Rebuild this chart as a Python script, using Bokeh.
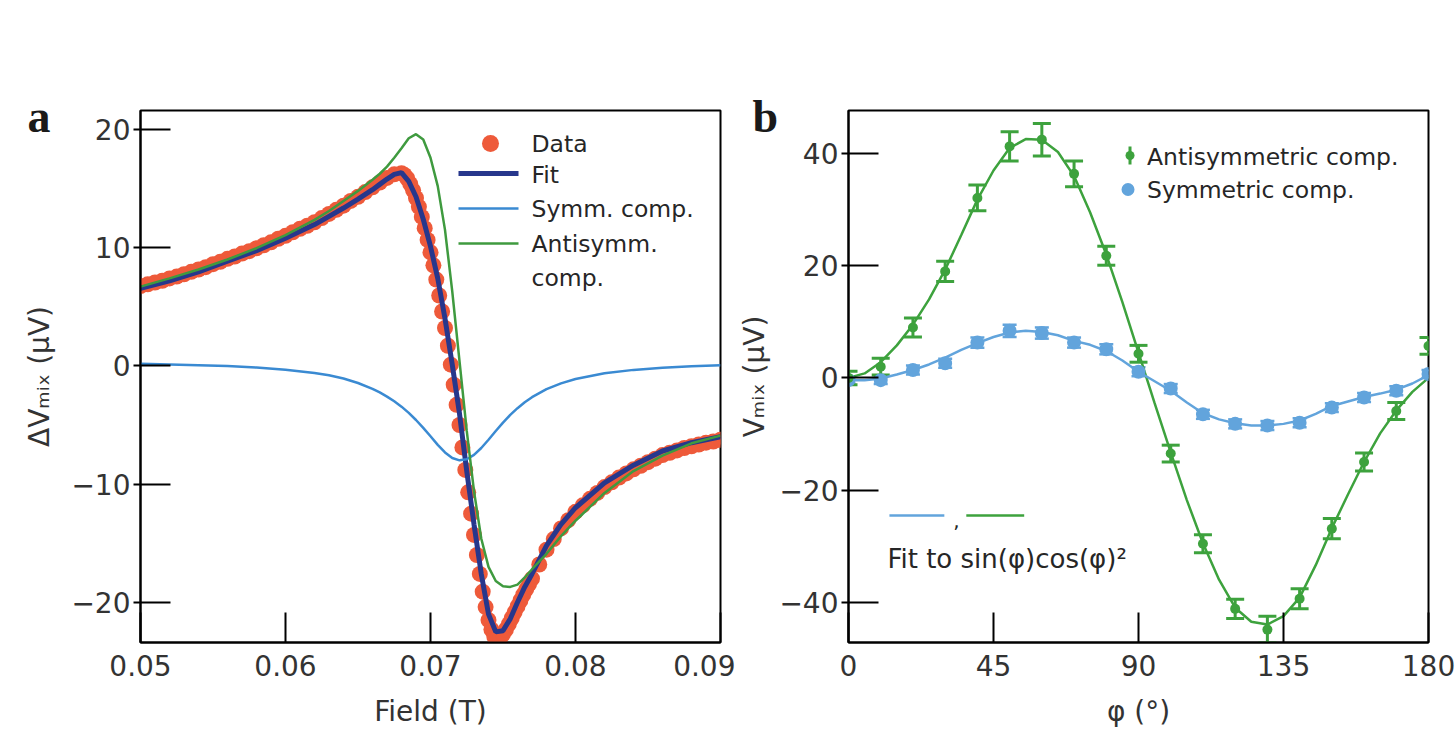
from bokeh.plotting import figure
from bokeh.layouts import row
from bokeh.models import FixedTicker, Whisker, TeeHead, ColumnDataSource
from bokeh.core.properties import value
from bokeh.embed import file_html
from bokeh.resources import INLINE

# ---------------- panel a: mixing voltage versus field ----------------
field_data = [
    0.0500, 0.0505, 0.0510, 0.0515, 0.0520, 0.0525, 0.0530, 0.0535, 0.0540, 0.0545,
    0.0550, 0.0555, 0.0560, 0.0565, 0.0570, 0.0575, 0.0580, 0.0585, 0.0590, 0.0595,
    0.0600, 0.0605, 0.0610, 0.0615, 0.0620, 0.0625, 0.0630, 0.0635, 0.0640, 0.0645,
    0.0650, 0.0655, 0.0660, 0.0665, 0.0670, 0.0675, 0.0680,
    0.0682, 0.0684, 0.0686, 0.0688, 0.0690, 0.0692, 0.0694, 0.0696, 0.0698, 0.0700,
    0.0702, 0.0704, 0.0706, 0.0708, 0.0710, 0.0712, 0.0714, 0.0716, 0.0718, 0.0720,
    0.0722, 0.0724, 0.0726, 0.0728, 0.0730, 0.0732, 0.0734, 0.0736, 0.0738, 0.0740,
    0.0742, 0.0744, 0.0746, 0.0748, 0.0750, 0.0752, 0.0754, 0.0756, 0.0758, 0.0760,
    0.0762, 0.0764, 0.0766, 0.0768, 0.0770,
    0.0775, 0.0780, 0.0785, 0.0790, 0.0795, 0.0800, 0.0805, 0.0810, 0.0815, 0.0820,
    0.0825, 0.0830, 0.0835, 0.0840, 0.0845, 0.0850, 0.0855, 0.0860, 0.0865, 0.0870,
    0.0875, 0.0880, 0.0885, 0.0890, 0.0895, 0.0900,
]
dv_data = [
    6.75, 6.9, 7.05, 7.2, 7.4, 7.55, 7.75, 7.95, 8.15, 8.35,
    8.6, 8.8, 9.05, 9.25, 9.5, 9.7, 9.95, 10.2, 10.45, 10.75,
    11.0, 11.3, 11.6, 11.85, 12.15, 12.5, 12.85, 13.2, 13.55, 13.95,
    14.3, 14.7, 15.1, 15.5, 15.9, 16.2, 16.3,
    16.15, 15.85, 15.4, 14.85, 14.2, 13.45, 12.6, 11.65, 10.65, 9.6,
    8.5, 7.3, 5.95, 4.6, 3.2, 1.7, 0.1, -1.6, -3.3, -5.0,
    -6.9, -8.8, -10.7, -12.5, -14.3, -16.0, -17.6, -19.1, -20.4, -21.5,
    -22.3, -22.9, -23.1, -23.0, -22.7, -22.3, -21.85, -21.35, -20.85, -20.35,
    -19.85, -19.35, -18.9, -18.45, -18.0,
    -16.8, -15.55, -14.65, -13.75, -13.05, -12.35, -11.8, -11.25, -10.75, -10.25,
    -9.85, -9.45, -9.1, -8.75, -8.45, -8.15, -7.85, -7.55, -7.35, -7.15,
    -6.95, -6.8, -6.65, -6.5, -6.4, -6.25,
]

field_fit = [
    0.050, 0.052, 0.054, 0.056, 0.058, 0.060, 0.062, 0.063, 0.064, 0.065,
    0.066, 0.0665, 0.067, 0.0675, 0.068, 0.0685, 0.069, 0.0695, 0.070, 0.0705,
    0.071, 0.0715, 0.072, 0.0725, 0.073, 0.0735, 0.074, 0.0745, 0.075, 0.0755,
    0.076, 0.0765, 0.077, 0.078, 0.079, 0.080, 0.082, 0.084, 0.086, 0.088, 0.090,
]
dv_fit = [
    6.55, 7.2, 7.95, 8.85, 9.75, 10.8, 11.95, 12.65, 13.35, 14.1,
    14.9, 15.35, 15.8, 16.2, 16.35, 15.6, 14.3, 12.4, 10.1, 7.4,
    4.0, 0.1, -4.05, -8.9, -13.4, -17.6, -21.0, -22.5, -22.4, -21.4,
    -20.0, -18.7, -17.6, -15.2, -13.4, -12.0, -9.9, -8.4, -7.2, -6.5, -6.0,
]
dv_symm = [
    0.17, 0.12, 0.06, -0.02, -0.14, -0.32, -0.6, -0.8, -1.07, -1.45,
    -1.95, -2.25, -2.6, -3.0, -3.45, -3.98, -4.58, -5.24, -5.95, -6.68,
    -7.32, -7.79, -7.99, -7.9, -7.53, -6.95, -6.25, -5.51, -4.8, -4.15,
    -3.58, -3.08, -2.65, -1.97, -1.48, -1.11, -0.63, -0.34, -0.16, -0.03, 0.06,
]
dv_antisymm = [
    6.7, 7.4, 8.15, 9.0, 9.95, 11.05, 12.35, 13.1, 13.95, 14.8,
    15.75, 16.25, 16.85, 17.6, 18.4, 19.25, 19.6, 19.15, 17.6, 15.2,
    11.5, 6.3, 0.4, -5.5, -10.6, -14.6, -17.0, -18.2, -18.65, -18.7,
    -18.5, -17.9, -17.2, -15.9, -14.4, -13.1, -10.75, -8.9, -7.6, -6.55, -5.9,
]

# ---------------- panel b: components versus angle ----------------
phi = [0, 10, 20, 30, 40, 50, 60, 70, 80, 90, 100, 110, 120, 130, 140, 150, 160, 170, 180]
v_anti = [0.0, 2.0, 9.0, 19.0, 32.1, 41.3, 42.5, 36.4, 21.8, 4.3,
          -13.5, -29.6, -41.2, -44.9, -39.4, -26.9, -15.0, -5.9, 5.7]
v_anti_err = [1.2, 1.5, 1.7, 1.8, 2.3, 2.6, 2.9, 2.3, 1.7, 1.5,
              1.5, 1.6, 1.7, 2.4, 1.8, 1.8, 1.6, 1.5, 1.5]
v_sym = [-0.4, -0.4, 1.4, 2.6, 6.3, 8.4, 8.0, 6.3, 5.1, 1.1,
         -1.9, -6.5, -8.2, -8.5, -8.0, -5.3, -3.5, -2.3, 0.7]
v_sym_err = [0.6, 0.7, 0.8, 0.8, 0.9, 1.1, 1.0, 0.9, 0.9, 0.8,
             0.8, 0.8, 0.8, 0.8, 0.8, 0.8, 0.8, 0.8, 0.7]

phi_fit = [0, 5, 10, 15, 20, 25, 30, 35, 40, 45, 50, 55, 60, 65, 70, 75, 80, 85, 90,
           95, 100, 105, 110, 115, 120, 125, 130, 135, 140, 145, 150, 155, 160, 165, 170, 175, 180]
anti_fit = [0.0, 0.8, 2.8, 5.8, 9.5, 14.0, 19.3, 25.5, 31.8, 37.0, 41.0, 42.6, 42.5, 40.3, 36.0,
            29.5, 22.0, 13.5, 4.5, -4.5, -13.3, -21.8, -29.5, -36.0, -41.0, -43.5, -44.0, -42.5,
            -39.2, -33.4, -26.8, -20.8, -15.0, -9.9, -5.8, -2.5, 0.0]
sym_fit = [-0.4, -0.4, -0.1, 0.6, 1.4, 2.4, 3.6, 5.0, 6.2, 7.3, 8.1, 8.4, 8.2, 7.6, 6.6,
           5.9, 4.8, 3.1, 1.1, -0.6, -2.3, -4.4, -6.3, -7.4, -8.1, -8.5, -8.5, -8.2,
           -7.6, -6.4, -5.0, -4.2, -3.4, -2.8, -2.1, -1.0, 0.5]

# ---------------- ticks ----------------
x_ticks_a = [0.05, 0.06, 0.07, 0.08, 0.09]
x_tick_labels_a = ["0.05", "0.06", "0.07", "0.08", "0.09"]
y_ticks_a = [-20, -10, 0, 10, 20]
y_tick_labels_a = ["\u221220", "\u221210", "0", "10", "20"]
x_ticks_b = [0, 45, 90, 135, 180]
x_tick_labels_b = ["0", "45", "90", "135", "180"]
y_ticks_b = [-40, -20, 0, 20, 40]
y_tick_labels_b = ["\u221240", "\u221220", "0", "20", "40"]

# ---------------- styling ----------------
FONT = "DejaVu Sans"
TXT = "#262626"
RED = "#ee5a3a"
NAVY = "#27378c"
SKY = "#3a8ad2"
GREEN = "#3f9a3f"
BLUE_B = "#62a4dc"
GREEN_B = "#3da23d"

XA = (0.05, 0.09)
YA = (-23.4, 21.6)
XB = (0.0, 180.0)
YB = (-47.2, 47.7)

# page-pixel frame edges
A_LEFT, A_RIGHT = 140, 720
B_LEFT, B_RIGHT = 847, 1428
TOP, BOTTOM = 110, 642


def conv_a(px, py):
    x = XA[0] + (px - A_LEFT) * (XA[1] - XA[0]) / (A_RIGHT - A_LEFT)
    y = YA[1] - (py - TOP) * (YA[1] - YA[0]) / (BOTTOM - TOP)
    return x, y


def conv_b(px, py):
    x = XB[0] + (px - B_LEFT) * (XB[1] - XB[0]) / (B_RIGHT - B_LEFT)
    y = YB[1] - (py - TOP) * (YB[1] - YB[0]) / (BOTTOM - TOP)
    return x, y


def style(p, xt, xl, yt, yl, xlabel, ylabel, ylabel_standoff, letter, letter_offset):
    p.xgrid.visible = False
    p.ygrid.visible = False
    p.outline_line_color = "black"
    p.outline_line_width = 2
    p.outline_line_alpha = 1.0
    p.xaxis.ticker = FixedTicker(ticks=xt)
    p.yaxis.ticker = FixedTicker(ticks=yt)
    p.xaxis.major_label_overrides = {t: s for t, s in zip(xt, xl)}
    p.yaxis.major_label_overrides = {t: s for t, s in zip(yt, yl)}
    for ax in p.axis:
        ax.axis_line_width = 2
        ax.axis_line_color = "black"
        ax.major_tick_line_width = 2
        ax.major_tick_line_color = "black"
        ax.minor_tick_line_color = None
        ax.major_tick_in = 30
        ax.major_label_text_font = FONT
        ax.major_label_text_font_size = "28px"
        ax.major_label_text_color = "#333333"
        ax.axis_label_text_font = FONT
        ax.axis_label_text_font_size = "28px"
        ax.axis_label_text_font_style = "normal"
        ax.axis_label_text_color = "#333333"
    p.xaxis.major_tick_out = 0
    p.xaxis.major_label_standoff = 12
    p.xaxis.axis_label = xlabel
    p.xaxis.axis_label_standoff = 16
    p.yaxis.major_tick_out = 7
    p.yaxis.major_label_standoff = 3
    p.yaxis.axis_label = ylabel
    p.yaxis.axis_label_standoff = ylabel_standoff
    # panel letter
    p.title.text = letter
    p.title.align = "left"
    p.title.offset = letter_offset
    p.title.standoff = -62
    p.title.text_font = "Liberation Serif"
    p.title.text_font_size = "46px"
    p.title.text_font_style = "bold"
    p.title.text_color = "#1a1a1a"


def put_text(p, conv, px, py, text, size, align="left", color=TXT):
    x, y = conv(px, py)
    p.text(x=[x], y=[y], text=[text], text_font=value(FONT), text_font_size=size,
           text_align=align, text_baseline="middle", text_color=color)


def put_seg(p, conv, px0, px1, py, color, width):
    x0, y0 = conv(px0, py)
    x1, _ = conv(px1, py)
    p.line([x0, x1], [y0, y0], line_color=color, line_width=width)


# ================= panel a =================
pa = figure(width=735, height=738, x_range=XA, y_range=YA,
            min_border_left=140, min_border_right=15, min_border_top=110,
            min_border_bottom=96, output_backend="svg", toolbar_location=None)
style(pa, x_ticks_a, x_tick_labels_a, y_ticks_a, y_tick_labels_a,
      "Field (T)", "\u0394V\u2098\u1d62\u2093 (\u00b5V)", 12, "a", 27 - A_LEFT)

pa.scatter(field_data, dv_data, size=16, fill_color=RED, line_color=None)
pa.line(field_fit, dv_fit, line_color=NAVY, line_width=5)
pa.line(field_fit, dv_symm, line_color=SKY, line_width=2.5)
pa.line(field_fit, dv_antisymm, line_color=GREEN, line_width=2.5)

# key
dx, dy = conv_a(490, 143)
pa.scatter([dx], [dy], size=17, fill_color=RED, line_color=None)
put_seg(pa, conv_a, 458, 518, 173, NAVY, 5)
put_seg(pa, conv_a, 458, 518, 208, SKY, 2.5)
put_seg(pa, conv_a, 458, 518, 243, GREEN, 2.5)
put_text(pa, conv_a, 531, 143, "Data", "23.5px")
put_text(pa, conv_a, 531, 174, "Fit", "23.5px")
put_text(pa, conv_a, 531, 208, "Symm. comp.", "23.5px")
put_text(pa, conv_a, 531, 243, "Antisymm.", "23.5px")
put_text(pa, conv_a, 531, 277, "comp.", "23.5px")

# ================= panel b =================
pb = figure(width=720, height=738, x_range=XB, y_range=YB,
            min_border_left=112, min_border_right=27, min_border_top=110,
            min_border_bottom=96, output_backend="svg", toolbar_location=None)
style(pb, x_ticks_b, x_tick_labels_b, y_ticks_b, y_tick_labels_b,
      "\u03c6 (\u00b0)", "V\u2098\u1d62\u2093 (\u00b5V)", 5, "b", 751 - B_LEFT)

pb.line(phi_fit, anti_fit, line_color=GREEN_B, line_width=2.5)
pb.line(phi_fit, sym_fit, line_color=BLUE_B, line_width=2.5)

src_sym = ColumnDataSource(dict(
    phi=phi, v=v_sym,
    upper=[v + e for v, e in zip(v_sym, v_sym_err)],
    lower=[v - e for v, e in zip(v_sym, v_sym_err)]))
src_anti = ColumnDataSource(dict(
    phi=phi, v=v_anti,
    upper=[v + e for v, e in zip(v_anti, v_anti_err)],
    lower=[v - e for v, e in zip(v_anti, v_anti_err)]))

pb.add_layout(Whisker(source=src_sym, base="phi", upper="upper", lower="lower",
                      line_color=BLUE_B, line_width=2.5,
                      upper_head=TeeHead(size=14, line_color=BLUE_B, line_width=2.5),
                      lower_head=TeeHead(size=14, line_color=BLUE_B, line_width=2.5)))
pb.scatter("phi", "v", source=src_sym, size=14, fill_color=BLUE_B, line_color=None)

pb.add_layout(Whisker(source=src_anti, base="phi", upper="upper", lower="lower",
                      line_color=GREEN_B, line_width=3,
                      upper_head=TeeHead(size=18, line_color=GREEN_B, line_width=3),
                      lower_head=TeeHead(size=18, line_color=GREEN_B, line_width=3)))
pb.scatter("phi", "v", source=src_anti, size=10, fill_color=GREEN_B, line_color=None)

# key
gx, gy = conv_b(1129, 155)
pb.scatter([gx], [gy], size=9, fill_color=GREEN_B, line_color=None)
_, gy0 = conv_b(1129, 146)
_, gy1 = conv_b(1129, 164)
pb.segment([gx], [gy0], [gx], [gy1], line_color=GREEN_B, line_width=3)
bx, by = conv_b(1127, 189)
pb.scatter([bx], [by], size=13, fill_color=BLUE_B, line_color=None)
put_text(pb, conv_b, 1146, 156, "Antisymmetric comp.", "23.5px")
put_text(pb, conv_b, 1146, 189, "Symmetric comp.", "23.5px")

# fit note
put_seg(pb, conv_b, 888, 943, 515, BLUE_B, 2.5)
put_seg(pb, conv_b, 965, 1023, 515, GREEN_B, 2.5)
put_text(pb, conv_b, 955, 520, ",", "20px", align="center")
put_text(pb, conv_b, 886, 558, "Fit to sin(\u03c6)cos(\u03c6)\u00b2", "26px")

layout = row(pa, pb)
open("out.html", "w").write(file_html(layout, INLINE))
